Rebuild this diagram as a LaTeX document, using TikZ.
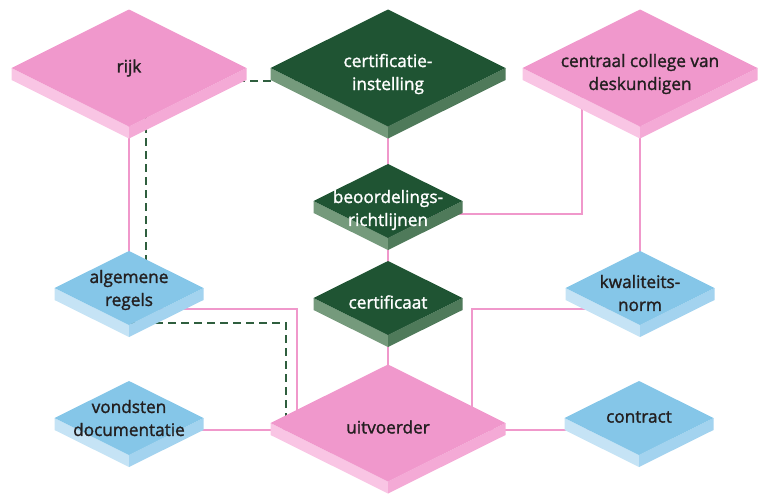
\documentclass[tikz,border=0pt]{standalone}
\usepackage{fontspec}
\setmainfont{Open Sans}
\newfontfamily\lblfont{Open Sans}[FakeBold=1.5]
\usetikzlibrary{calc}
\pgfdeclarelayer{bg}
\pgfsetlayers{bg,main}
\definecolor{pkT}{HTML}{F098CC}
\definecolor{pkL}{HTML}{F9C5E4}
\definecolor{pkR}{HTML}{F4AAD6}
\definecolor{grT}{HTML}{1F5433}
\definecolor{grL}{HTML}{759A7C}
\definecolor{grR}{HTML}{4F7A5A}
\definecolor{blT}{HTML}{85C6E8}
\definecolor{blL}{HTML}{C5E3F5}
\definecolor{blR}{HTML}{A3D3EF}
\definecolor{txtdark}{HTML}{231F20}
\definecolor{linkpink}{HTML}{F098CB}
\definecolor{dashgreen}{HTML}{2F5E3E}
\tikzset{
  labeltext/.style={align=center, inner sep=0pt, font=\lblfont\fontsize{17.2}{23}\selectfont},
  pktxt/.style={labeltext, text=txtdark},
  bltxt/.style={labeltext, text=txtdark},
  grtxt/.style={labeltext, text=white},
  link/.style={draw=linkpink, line width=1.5pt},
  dlink/.style={draw=dashgreen, line width=1.5pt, dash pattern=on 8pt off 5pt},
}
% name, x, y, half width, half height, colour family, text shift, text
\newcommand\isoslab[8]{%
  \begin{scope}[shift={(#2,#3)}]
    \fill[#6L] (-#4,0) -- (0,#5) -- (0,#5+12) -- (-#4,12) -- cycle;
    \fill[#6R] (#4,0) -- (0,#5) -- (0,#5+12) -- (#4,12) -- cycle;
    \fill[#6T] (-#4,0) -- (0,-#5) -- (#4,0) -- (0,#5) -- cycle;
  \end{scope}
  \coordinate (#1) at (#2,#3);
  \node[#6txt] (#1-txt) at (#2,#3+#7) {#8};
}
\begin{document}
\begin{tikzpicture}[x=1pt,y=-1pt]
\useasboundingbox (0,0) rectangle (760,493);
% large slabs
\isoslab{rijk}{129}{68}{117.5}{58.5}{pk}{0}{rijk}
\isoslab{cert}{388}{68}{117.5}{58.5}{gr}{6}{certificatie-\\instelling}
\isoslab{ccvd}{640}{68}{117.5}{58.5}{pk}{6}{centraal college van\\deskundigen}
\isoslab{uit}{388}{423}{117.5}{58.5}{pk}{4}{uitvoerder}
% medium slabs
\isoslab{beo}{388}{201}{74.5}{37}{gr}{9}{beoordelings-\\richtlijnen}
\isoslab{cfc}{388}{298}{74.5}{37}{gr}{4}{certificaat}
\isoslab{alg}{129}{288}{74.5}{37}{bl}{2}{algemene\\regels}
\isoslab{kwal}{640}{288}{74.5}{37}{bl}{5}{kwaliteits-\\norm}
\isoslab{vond}{129}{418}{74.5}{37}{bl}{0}{vondsten\\documentatie}
\isoslab{con}{639}{418}{74.5}{37}{bl}{-1}{contract}
% connectors behind the slabs
\begin{pgfonlayer}{bg}
  \draw[link] (rijk) -- (alg);
  \draw[link] (cert) -- (beo);
  \draw[link] (beo) -- (cfc);
  \draw[link] (cfc) -- (uit);
  \draw[link] (ccvd) -- (kwal);
  \draw[link] ($(beo)+(0,13)$) -| ($(ccvd)+(-58,0)$);
  \draw[link] ($(alg)+(0,21)$) -| ($(uit)+(-91,0)$);
  \draw[link] ($(kwal)+(0,21)$) -| ($(uit)+(84,0)$);
  \draw[link] ($(vond)+(0,12)$) -- ($(uit)+(0,7)$);
  \draw[link] ($(uit)+(0,7)$) -- ($(con)+(0,12)$);
  \draw[dlink] ($(cert)+(0,13)$) -| ($(alg)+(17,0)$);
  \draw[dlink] ($(alg)+(0,35)$) -| ($(uit)+(-102,0)$);
\end{pgfonlayer}
\end{tikzpicture}
\end{document}
